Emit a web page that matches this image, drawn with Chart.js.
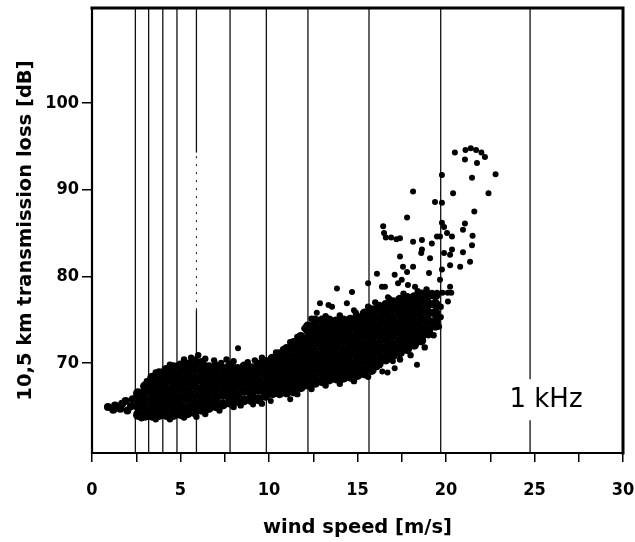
<!DOCTYPE html>
<html><head><meta charset="utf-8">
<script src="https://cdn.jsdelivr.net/npm/chart.js@4.4.1/dist/chart.umd.min.js"></script>
<style>html,body{margin:0;padding:0;background:#fff}</style>
</head><body>
<canvas id="c" width="635" height="542"></canvas>
<script>
// ---- data ----
const speedTicks = [0, 2.5, 5, 7.5, 10, 12.5, 15, 17.5, 20, 22.5, 25, 27.5, 30];
const lossTicks = [70, 80, 90, 100];
const speedRange = [0, 30];
const lossRange = [59.6, 111];
const beaufortSpeeds = [2.45, 3.2, 4.0, 4.8, 5.9, 7.8, 9.85, 12.2, 15.65, 19.7, 24.75];
// the 5.9 m/s line is only faintly printed between these losses
const faintSpan = [5.9, 76.1, 94.3];

// dense cloud: wind speed columns and the losses read in each column
const coreSpeeds = [2.6, 3.0, 3.4, 3.8, 4.2, 4.6, 5.0, 5.4, 5.8, 6.2, 6.6, 7.0, 7.4, 7.8, 8.2, 8.6, 9.0, 9.4, 9.8, 10.2,
  10.6, 11.0, 11.4, 11.8, 12.2, 12.6, 13.0, 13.4, 13.8, 14.2, 14.6, 15.0, 15.4, 15.8, 16.2, 16.6, 17.0, 17.4, 17.8, 18.2,
  18.6, 19.0, 19.4];
const coreLosses = [
  [64.0, 65.0, 66.0, 66.5],
  [63.9, 64.6, 65.6, 66.6, 67.3],
  [63.9, 64.9, 65.9, 66.9, 67.8, 68.3],
  [64.0, 64.5, 65.5, 66.5, 67.5, 68.5, 68.8],
  [64.0, 65.0, 66.0, 67.0, 68.0, 68.9, 69.2],
  [64.0, 64.6, 65.6, 66.6, 67.6, 68.6, 69.5],
  [64.1, 65.1, 66.1, 67.1, 68.1, 69.1, 69.7],
  [64.2, 64.8, 65.8, 66.8, 67.8, 68.8, 69.8],
  [64.3, 65.3, 66.3, 67.3, 68.3, 69.3, 70.2],
  [64.6, 65.0, 66.0, 67.0, 68.0, 69.0, 70.0],
  [64.8, 65.5, 66.5, 67.5, 68.5, 69.5],
  [65.0, 65.9, 66.9, 67.9, 68.9, 69.6],
  [65.2, 66.3, 67.3, 68.3, 69.3],
  [65.4, 65.9, 66.8, 67.8, 68.8, 69.7],
  [65.6, 66.3, 67.3, 68.3, 69.3],
  [65.7, 66.8, 67.8, 68.8, 69.6],
  [65.7, 66.4, 67.4, 68.4, 69.4],
  [65.8, 66.9, 67.9, 68.9, 69.8],
  [66.2, 66.6, 67.6, 68.6, 69.6, 70.1],
  [66.5, 67.1, 68.1, 69.1, 70.1, 70.5],
  [66.5, 66.9, 67.7, 68.7, 69.7, 70.7, 71.0],
  [66.6, 67.2, 68.2, 69.2, 70.2, 71.2, 71.6],
  [66.7, 67.7, 68.7, 69.7, 70.7, 71.7, 72.3],
  [67.2, 67.6, 68.3, 69.3, 70.3, 71.3, 72.3, 73.0],
  [67.5, 67.8, 68.8, 69.8, 70.8, 71.8, 72.8, 73.8, 74.2],
  [67.7, 68.3, 69.3, 70.3, 71.3, 72.3, 73.3, 74.3, 74.9],
  [67.9, 68.9, 69.9, 70.9, 71.9, 72.9, 73.9, 74.9],
  [68.1, 68.4, 69.4, 70.4, 71.4, 72.4, 73.4, 74.4, 74.9],
  [68.2, 68.9, 69.9, 70.9, 71.9, 72.9, 73.9, 74.8],
  [68.3, 68.5, 69.5, 70.5, 71.5, 72.5, 73.5, 74.5, 74.9],
  [68.4, 69.0, 70.0, 71.0, 72.0, 73.0, 74.0, 75.0],
  [68.6, 69.6, 70.6, 71.6, 72.6, 73.6, 74.6, 75.2],
  [68.8, 69.2, 70.2, 71.2, 72.2, 73.2, 74.2, 75.2, 75.7],
  [69.2, 69.7, 70.7, 71.7, 72.7, 73.7, 74.7, 75.7, 76.1],
  [69.9, 70.2, 71.2, 72.2, 73.2, 74.2, 75.2, 76.2, 76.5],
  [70.4, 70.7, 71.7, 72.7, 73.7, 74.7, 75.7, 76.7],
  [70.9, 71.2, 72.2, 73.2, 74.2, 75.2, 76.2, 77.0],
  [71.2, 71.6, 72.6, 73.6, 74.6, 75.6, 76.6, 77.3],
  [71.6, 72.1, 73.1, 74.1, 75.1, 76.1, 77.1, 77.5],
  [72.1, 72.6, 73.6, 74.6, 75.6, 76.6, 77.6],
  [72.6, 73.1, 74.1, 75.1, 76.1, 77.1, 77.9],
  [73.4, 73.8, 74.8, 75.8, 76.8, 77.8],
  [74.3, 74.8, 75.8, 76.8, 77.8]
];

// ragged edge of the cloud (speed, loss)
const fringePoints = [
  [3.1, 67.9], [3.6, 68.9], [4.4, 69.8], [5.2, 70.4], [5.6, 70.6], [6.0, 70.9], [6.4, 70.5], [6.9, 70.3],
  [7.3, 70.0], [7.6, 70.4], [8.0, 70.2], [8.8, 70.1], [9.2, 70.3], [9.6, 70.6], [10.4, 71.2], [10.8, 71.6],
  [2.8, 63.6], [3.6, 63.5], [4.4, 63.5], [5.2, 63.7], [5.9, 63.8], [6.4, 64.1], [7.2, 64.5], [8.0, 64.9],
  [8.4, 65.1], [9.6, 65.3],
  [11.2, 72.4], [11.6, 73.0], [12.0, 74.0], [12.4, 75.1], [13.2, 75.4], [14.0, 75.5], [14.9, 75.8], [15.6, 76.5],
  [16.0, 77.0], [16.8, 77.4], [17.6, 78.0], [18.4, 78.3], [18.9, 78.5],
  [11.6, 66.4], [12.4, 67.0], [13.2, 67.4], [14.0, 67.6], [14.8, 67.9], [15.6, 68.4], [17.4, 70.4], [18.0, 70.9],
  [18.8, 71.8], [19.3, 73.2], [19.6, 74.2], [19.7, 76.5], [19.7, 75.3]
];

// low-wind tail (speed, loss)
const tailPoints = [[0.9, 64.9], [1.2, 64.6], [1.3, 65.1], [1.6, 64.7], [1.7, 65.3], [1.9, 65.6],
  [2.0, 64.5], [2.2, 65.0], [2.3, 65.8]];

// scattered points (speed, loss)
const outlierPoints = [
  [8.25, 71.7], [9.1, 65.2], [10.1, 65.6], [11.2, 65.8],
  [12.7, 75.8], [12.88, 76.9], [13.36, 76.7], [13.56, 76.5], [13.84, 78.6], [14.4, 76.9], [14.69, 78.2], [14.8, 76.1],
  [15.6, 79.2], [16.1, 80.3], [16.38, 78.8], [16.55, 78.8], [16.72, 77.6], [17.1, 80.2], [17.29, 79.2], [17.4, 82.3],
  [17.57, 81.1], [17.5, 79.6], [17.8, 80.5], [17.85, 79.0], [18.25, 78.8], [18.6, 82.7], [19.04, 80.4], [19.2, 83.8],
  [18.14, 84.0], [18.64, 84.2], [18.64, 83.1], [19.1, 82.1], [18.14, 81.1], [17.8, 86.8], [18.14, 89.8], [19.38, 88.6],
  [19.77, 91.7], [19.77, 88.5], [19.77, 86.2], [19.89, 85.7], [19.66, 84.6], [20.06, 85.0], [20.34, 84.6], [19.49, 84.6],
  [19.89, 82.7], [19.77, 80.8], [19.66, 79.6], [20.23, 78.8], [20.11, 77.1],
  [19.2, 78.1], [19.5, 78.1], [19.8, 78.1], [20.1, 78.1], [20.3, 78.1],
  [16.45, 85.8], [16.5, 85.0], [16.6, 84.5], [16.9, 84.5], [17.2, 84.3], [17.4, 84.4],
  [20.4, 89.6], [20.5, 94.3], [21.07, 93.5], [21.1, 94.6], [21.4, 94.8], [21.7, 94.6], [22.0, 94.3], [22.2, 93.8],
  [21.75, 93.1], [21.47, 91.4], [22.8, 91.8], [22.4, 89.6], [21.6, 87.5], [21.07, 86.1], [20.96, 85.4], [21.5, 84.7],
  [21.47, 83.6], [20.96, 82.8], [20.34, 83.1], [20.23, 82.5], [21.36, 81.7], [20.8, 81.1], [20.23, 81.3],
  [16.1, 69.5], [16.4, 69.0], [16.7, 68.9], [17.1, 69.4], [17.0, 70.2], [18.36, 69.8]
];

const labelText = '1 kHz';
const labelAt = [25.65, 65.7];

// ---- build datasets ----
const corePts = [];
coreSpeeds.forEach((s, i) => coreLosses[i].forEach(l => corePts.push({x: s, y: l})));
const pairs = a => a.map(p => ({x: p[0], y: p[1]}));

const lineSets = beaufortSpeeds.map(s => {
  const ys = s === faintSpan[0] ? [lossRange[0], faintSpan[1], faintSpan[2], lossRange[1]] : [lossRange[0], lossRange[1]];
  return {
    data: ys.map(y => ({x: s, y})),
    showLine: true, borderColor: '#111', borderWidth: 1.3, pointRadius: 0, order: 3,
    segment: {
      borderDash: c => (ys.length === 4 && c.p0DataIndex === 1 ? [2, 6] : undefined),
      borderWidth: c => (ys.length === 4 && c.p0DataIndex === 1 ? 1 : undefined)
    }
  };
});
const dotStyle = (r) => ({backgroundColor: '#000', borderWidth: 0, pointRadius: r, pointHoverRadius: r});

const fontTick = {family: '"DejaVu Sans Condensed", "DejaVu Sans", sans-serif', weight: 'bold', size: 18};
const fontTitle = {family: '"DejaVu Sans", sans-serif', weight: 'bold', size: 19.5};

const framePlugin = {
  id: 'frame',
  afterDatasetsDraw(chart) {
    const {ctx, chartArea: a, scales} = chart;
    ctx.save();
    ctx.font = '26px "DejaVu Sans", sans-serif';
    const w = ctx.measureText(labelText).width;
    const lx = scales.x.getPixelForValue(labelAt[0]);
    const ly = scales.y.getPixelForValue(labelAt[1]);
    ctx.fillStyle = '#fff';
    ctx.fillRect(lx - w / 2 - 3, ly - 21, w + 6, 41);
    ctx.fillStyle = '#000';
    ctx.textAlign = 'center';
    ctx.textBaseline = 'middle';
    ctx.fillText(labelText, lx, ly);
    ctx.strokeStyle = '#000';
    ctx.lineCap = 'square';
    ctx.lineWidth = 2.2;
    ctx.beginPath(); ctx.moveTo(a.left, a.top); ctx.lineTo(a.left, a.bottom); ctx.lineTo(a.right, a.bottom); ctx.stroke();
    ctx.lineWidth = 3;
    ctx.beginPath(); ctx.moveTo(a.left, a.top); ctx.lineTo(a.right, a.top); ctx.lineTo(a.right, a.bottom); ctx.stroke();
    ctx.restore();
  }
};

new Chart(document.getElementById('c'), {
  type: 'scatter',
  data: {
    datasets: [
      ...lineSets,
      Object.assign({data: corePts, order: 1}, dotStyle(5)),
      Object.assign({data: pairs(fringePoints), order: 1}, dotStyle(3.2)),
      Object.assign({data: pairs(tailPoints), order: 1}, dotStyle(4)),
      Object.assign({data: pairs(outlierPoints), order: 1}, dotStyle(3))
    ]
  },
  options: {
    responsive: false,
    animation: false,
    events: [],
    layout: {padding: {top: 8, right: 12, bottom: 0, left: 0}},
    plugins: {legend: {display: false}, tooltip: {enabled: false}},
    scales: {
      x: {
        type: 'linear', min: speedRange[0], max: speedRange[1],
        afterBuildTicks: sc => { sc.ticks = speedTicks.map(v => ({value: v})); },
        afterFit: sc => { sc.height = 89; sc.paddingLeft = 0; sc.paddingRight = 0; },
        ticks: {autoSkip: false, maxRotation: 0, padding: 18, color: '#000', font: fontTick,
          callback: v => (v % 5 === 0 ? String(v) : '')},
        grid: {drawOnChartArea: false, drawTicks: true, tickLength: 9, color: '#000', lineWidth: 1.5},
        border: {display: false},
        title: {display: true, text: 'wind speed [m/s]', color: '#000', font: fontTitle, padding: {top: 0, bottom: 2}}
      },
      y: {
        type: 'linear', min: lossRange[0], max: lossRange[1],
        afterBuildTicks: sc => { sc.ticks = lossTicks.map(v => ({value: v})); },
        afterFit: sc => { sc.width = 92; sc.paddingTop = 0; sc.paddingBottom = 0; },
        ticks: {autoSkip: false, padding: 3, color: '#000', font: fontTick},
        grid: {drawOnChartArea: false, drawTicks: true, tickLength: 10, color: '#000', lineWidth: 1.5},
        border: {display: false},
        title: {display: true, text: '10,5 km transmission loss [dB]', color: '#000', font: fontTitle, padding: {top: 14, bottom: 0}}
      }
    }
  },
  plugins: [framePlugin]
});
</script>
</body></html>
